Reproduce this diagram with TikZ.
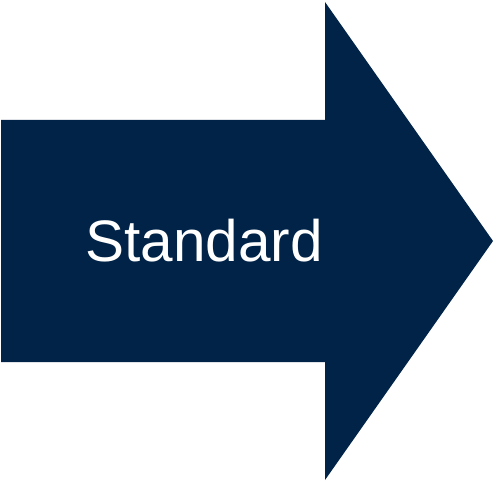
\documentclass[tikz,border=0pt]{standalone}
\usepackage{fontspec}
\setmainfont{Liberation Sans}
\definecolor{navy}{RGB}{0,35,71}
\begin{document}
\begin{tikzpicture}[x=1pt,y=-1pt,
  arrowshape/.style={fill=navy,draw=none},
  label/.style={text=white,font=\fontsize{58.5}{60}\selectfont,inner sep=0pt}]
\useasboundingbox (0,0) rectangle (494,481);
\fill[arrowshape] (1,120) -- (325,120) -- (325,2) -- (493,241) -- (325,480) -- (325,362) -- (1,362) -- cycle;
\node[label] (t) at (204,240.5) {Standard};
\end{tikzpicture}
\end{document}
